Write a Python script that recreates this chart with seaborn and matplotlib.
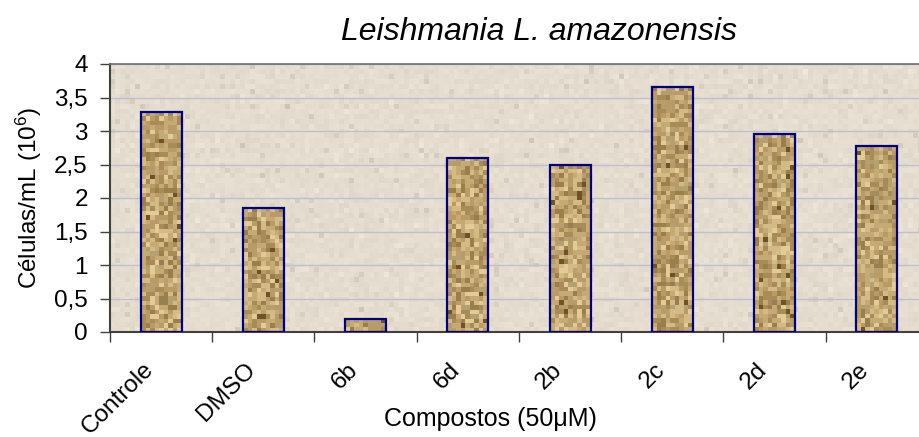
import numpy as np
import pandas as pd
import seaborn as sns
import matplotlib.pyplot as plt
from matplotlib.colors import to_rgb
from matplotlib.transforms import ScaledTranslation

# Cell counts per compound
compostos = ["Controle", "DMSO", "6b", "6d", "2b", "2c", "2d", "2e"]
celulas = [3.28, 1.85, 0.2, 2.6, 2.5, 3.66, 2.95, 2.77]
y_ticks = [0, 0.5, 1, 1.5, 2, 2.5, 3, 3.5, 4]
y_tick_labels = ["0", "0,5", "1", "1,5", "2", "2,5", "3", "3,5", "4"]

sns.set_theme(style="white")
plt.rcParams["font.family"] = ["Liberation Sans", "DejaVu Sans"]
plt.rcParams["mathtext.fontset"] = "custom"
plt.rcParams["mathtext.rm"] = "Liberation Sans"
plt.rcParams["mathtext.it"] = "Liberation Sans:italic"

FS = 17.5
W, H = 920, 437
fig = plt.figure(figsize=(W / 100, H / 100), dpi=100)
fig.patch.set_facecolor("white")
ax = fig.add_axes([110 / W, 1 - 332 / H, (928 - 110) / W, (332 - 64) / H])

df = pd.DataFrame({"composto": compostos, "celulas": celulas})
sns.barplot(data=df, x="composto", y="celulas", width=0.4, color="#B89C6C",
            saturation=1, edgecolor="#000080", linewidth=1.6, ax=ax, zorder=3)

# grainy paper-like fills (decorative texture only)
grain = np.random.default_rng(11)

bg_rows, bg_cols = 54, 164
bg_base = np.array(to_rgb("#E4DDD0"))
bg = bg_base + grain.normal(0, 0.012, (bg_rows, bg_cols, 1))
spots = grain.random((bg_rows, bg_cols)) < 0.03
bg[spots] -= 0.06
ax.imshow(np.clip(bg, 0, 1), extent=[0, 1, 0, 1], transform=ax.transAxes,
          aspect="auto", interpolation="nearest", zorder=0)

sand = np.array([to_rgb(c) for c in
                 ["#E2CB97", "#D4BB85", "#C6AA74", "#B89B66", "#A88C58",
                  "#9A7E4C", "#B4A070", "#6E5228"]])
probs = np.array([0.10, 0.16, 0.20, 0.20, 0.15, 0.11, 0.06, 0.02])
for patch in ax.patches:
    x0, w, h = patch.get_x(), patch.get_width(), patch.get_height()
    ncols = 9
    nrows = max(1, int(round(h * 67 / 4.5)))
    idx = grain.choice(len(sand), size=(nrows, ncols), p=probs)
    tex = sand[idx]
    patch.set_facecolor("none")
    im = ax.imshow(tex, extent=[x0, x0 + w, 0, h], aspect="auto",
                   interpolation="nearest", zorder=2.5)
    im.set_clip_path(patch)

ax.set_xlim(-0.5, len(compostos) - 0.5)
ax.set_ylim(0, 4)
ax.set_yticks(y_ticks, y_tick_labels)
ax.yaxis.grid(True, color="#BEC1CC", linewidth=1)
ax.set_axisbelow(True)

ax.set_xticks(np.arange(-0.5, len(compostos), 1), minor=True)
ax.tick_params(axis="x", which="major", length=0, pad=19, labelsize=FS,
               labelcolor="black")
ax.tick_params(axis="x", which="minor", bottom=True, length=7, width=1,
               color="#404040", direction="out")
ax.tick_params(axis="y", left=True, length=7, width=1, color="#404040",
               direction="out", pad=9, labelsize=FS, labelcolor="black")
shift = ScaledTranslation(-19 / 100, 0, fig.dpi_scale_trans)
for lbl in ax.get_xticklabels():
    lbl.set_rotation(45)
    lbl.set_ha("right")
    lbl.set_va("top")
    lbl.set_rotation_mode("anchor")
    lbl.set_transform(lbl.get_transform() + shift)

for side in ["left", "bottom"]:
    ax.spines[side].set_color("#404040")
    ax.spines[side].set_linewidth(1.5)
ax.spines["top"].set_color("#6E6E6E")
ax.spines["top"].set_linewidth(1.2)
ax.spines["right"].set_visible(False)

ax.set_xlabel("")
ax.set_ylabel("Células/mL (10$^6$)", fontsize=FS, color="black")
ax.yaxis.set_label_coords((44 - 110) / 818, 0.5)

fig.text(490 / W, 1 - 426 / H, "Compostos (50μM)", ha="center",
         va="baseline", fontsize=18, color="black")
fig.text(539 / W, 1 - 40 / H, "Leishmania L. amazonensis", ha="center",
         va="baseline", fontsize=23, style="italic", color="black")

fig.savefig("out.png", dpi=100)
